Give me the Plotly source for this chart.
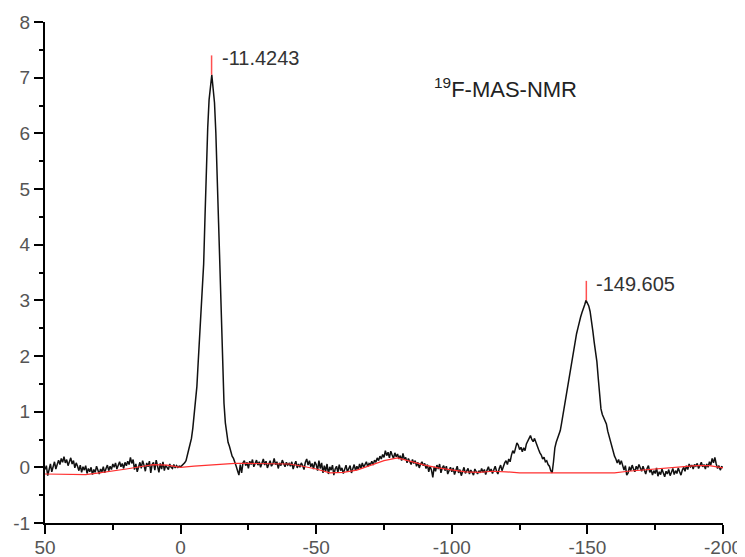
import plotly.graph_objects as go

# ---- data ----
# chemical shift grid: start and step (ppm)
shift_start = 50.0
shift_step = -0.5

# 19F MAS NMR spectrum intensity, 50 ppm -> -200 ppm every 0.5 ppm
intensity = [
    # 50.0 .. 40.5
    -0.04, 0.03, -0.15, -0.02, 0.06, -0.08, 0.04, 0.10, -0.03, 0.07, 0.13, 0.05, 0.16, 0.09, 0.19, 0.08, 0.14, 0.03, 0.11, 0.17,
    # 40.0 .. 30.5
    0.06, 0.12, -0.01, 0.08, 0.02, -0.06, 0.04, -0.09, 0.01, -0.05, 0.03, -0.11, -0.02, -0.08, 0.00, -0.13, -0.04, -0.09, 0.02, -0.07,
    # 30.0 .. 20.5
    -0.12, -0.03, -0.08, 0.01, -0.10, -0.02, 0.04, -0.06, 0.02, -0.04, 0.06, 0.00, 0.08, -0.03, 0.05, 0.10, 0.01, 0.07, -0.02, 0.09,
    # 20.0 .. 10.5
    0.03, 0.11, 0.05, 0.18, 0.07, 0.14, -0.04, 0.06, -0.08, 0.03, 0.09, -0.02, 0.12, 0.04, -0.07, 0.08, 0.01, 0.11, -0.10, 0.05,
    # 10.0 .. 0.5
    0.09, -0.05, 0.13, 0.02, -0.09, 0.07, -0.03, 0.10, -0.06, 0.04, 0.01, -0.04, 0.06, 0.00, -0.02, 0.05, -0.01, 0.03, 0.00, 0.02,
    # 0.0 .. -9.5
    0.01, 0.03, 0.05, 0.08, 0.12, 0.20, 0.32, 0.42, 0.52, 0.70, 0.92, 1.20, 1.45, 1.90, 2.40, 2.75, 3.20, 3.65, 4.50, 5.40,
    # -10.0 .. -19.5
    6.10, 6.60, 6.85, 7.05, 6.80, 6.55, 6.00, 5.35, 4.40, 3.60, 2.80, 1.90, 1.15, 0.80, 0.58, 0.45, 0.38, 0.28, 0.20, 0.16,
    # -20.0 .. -29.5
    0.10, 0.02, -0.06, -0.14, 0.05, -0.10, 0.08, 0.12, 0.03, 0.09, -0.02, 0.11, 0.05, 0.14, 0.01, 0.08, 0.13, 0.04, 0.10, 0.00,
    # -30.0 .. -39.5
    0.09, 0.15, 0.04, 0.11, -0.01, 0.07, 0.12, 0.02, 0.06, 0.16, 0.05, 0.10, -0.02, 0.08, 0.03, 0.13, 0.06, 0.01, 0.09, 0.04,
    # -40.0 .. -49.5
    0.07, 0.02, 0.10, -0.03, 0.05, 0.11, -0.01, 0.06, 0.00, 0.08, 0.03, -0.04, 0.09, 0.15, 0.04, 0.12, 0.01, 0.07, -0.03, 0.10,
    # -50.0 .. -59.5
    0.05, -0.06, 0.12, -0.02, 0.08, -0.10, 0.03, -0.07, 0.06, -0.12, 0.01, -0.05, 0.04, -0.14, -0.03, 0.02, -0.09, 0.05, -0.06, -0.01,
    # -60.0 .. -69.5
    -0.11, -0.02, 0.04, -0.08, -0.03, 0.03, -0.10, -0.01, 0.05, -0.06, 0.02, -0.04, 0.06, -0.02, 0.08, 0.00, 0.04, 0.10, 0.01, 0.07,
    # -70.0 .. -79.5
    0.05, 0.11, 0.04, 0.13, 0.09, 0.17, 0.12, 0.20, 0.15, 0.23, 0.18, 0.30, 0.21, 0.27, 0.17, 0.29, 0.22, 0.16, 0.26, 0.19,
    # -80.0 .. -89.5
    0.24, 0.15, 0.21, 0.12, 0.25, 0.14, 0.18, 0.08, 0.16, 0.11, 0.05, 0.14, 0.07, 0.12, 0.02, 0.09, -0.01, 0.06, 0.10, 0.03,
    # -90.0 .. -99.5
    0.07, -0.02, 0.05, -0.08, 0.02, -0.05, -0.18, 0.01, -0.07, 0.04, -0.03, 0.06, -0.10, -0.01, 0.03, -0.06, 0.02, -0.12, -0.04, 0.00,
    # -100.0 .. -109.5
    -0.08, -0.01, -0.13, -0.05, 0.02, -0.10, -0.04, -0.15, -0.06, 0.00, -0.11, -0.07, -0.02, -0.12, -0.05, -0.09, -0.14, -0.03, -0.08, -0.12,
    # -110.0 .. -119.5
    -0.06, -0.10, -0.02, -0.09, -0.04, -0.13, -0.05, 0.01, -0.08, -0.03, -0.11, -0.04, 0.02, -0.07, -0.12, -0.02, 0.04, -0.06, 0.03, 0.08,
    # -120.0 .. -129.5
    0.12, 0.05, 0.15, 0.10, 0.22, 0.30, 0.25, 0.38, 0.44, 0.40, 0.32, 0.36, 0.28, 0.35, 0.30, 0.42, 0.48, 0.52, 0.57, 0.50,
    # -130.0 .. -139.5
    0.46, 0.52, 0.44, 0.38, 0.32, 0.26, 0.22, 0.15, 0.18, 0.10, 0.12, 0.05, 0.02, -0.06, -0.10, 0.10, 0.35, 0.45, 0.52, 0.60,
    # -140.0 .. -149.5
    0.66, 0.80, 0.95, 1.10, 1.22, 1.40, 1.55, 1.70, 1.82, 1.95, 2.10, 2.25, 2.40, 2.50, 2.62, 2.70, 2.78, 2.84, 2.92, 3.00,
    # -150.0 .. -159.5
    2.96, 2.90, 2.80, 2.65, 2.45, 2.25, 2.10, 1.90, 1.60, 1.30, 1.05, 0.95, 0.90, 0.85, 0.78, 0.65, 0.55, 0.45, 0.38, 0.28,
    # -160.0 .. -169.5
    0.20, 0.15, 0.08, 0.14, 0.05, 0.12, 0.02, -0.05, 0.03, -0.14, -0.10, 0.01, -0.06, 0.04, -0.03, -0.08, 0.02, -0.04, 0.05, -0.02,
    # -170.0 .. -179.5
    -0.07, 0.02, -0.05, -0.12, -0.02, 0.03, -0.09, -0.04, -0.14, -0.06, -0.11, -0.01, -0.16, -0.08, -0.13, -0.03, -0.10, -0.17, -0.07, -0.12,
    # -180.0 .. -189.5
    -0.04, -0.15, -0.09, -0.02, -0.13, -0.06, -0.11, -0.01, -0.08, -0.14, -0.05, 0.00, -0.07, 0.03, -0.04, 0.06, 0.01, 0.04, -0.03, 0.05,
    # -190.0 .. -199.5
    0.02, 0.07, -0.02, 0.04, 0.09, 0.01, 0.05, -0.03, 0.06, 0.00, 0.10, 0.04, 0.16, 0.08, 0.18, 0.06, -0.02, 0.03, -0.05, 0.01,
    # -200.0
    0.00,
]

# fitted baseline (red), every 5 ppm from 50 to -200
baseline_shift = [50, 45, 40, 35, 30, 25, 20, 15, 10, 5, 0, -5, -10, -15, -20, -25, -30, -35, -40, -45,
                  -50, -55, -60, -65, -70, -75, -80, -85, -90, -95, -100, -105, -110, -115, -120, -125,
                  -130, -135, -140, -145, -150, -155, -160, -165, -170, -175, -180, -185, -190, -195, -200]
baseline_value = [-0.12, -0.12, -0.13, -0.13, -0.10, -0.07, -0.03, 0.01, 0.05, 0.04, 0.00, 0.02, 0.04, 0.06,
                  0.07, 0.07, 0.07, 0.06, 0.06, 0.02, -0.03, -0.10, -0.09, -0.05, 0.03, 0.12, 0.17, 0.10,
                  0.04, -0.01, -0.04, -0.08, -0.09, -0.07, -0.08, -0.10, -0.10, -0.10, -0.10, -0.10, -0.10,
                  -0.10, -0.10, -0.07, -0.05, -0.03, 0.00, 0.02, 0.03, 0.03, -0.01]

# labelled peaks
peak_shift = [-11.4243, -149.605]
peak_height = [7.05, 3.00]
peak_label = ["-11.4243", "-149.605"]
marker_len = 0.35

# axis ticks (hyphen minus as in the reference)
x_tick_vals = [50, 0, -50, -100, -150, -200]
x_tick_text = ["50", "0", "-50", "-100", "-150", "-200"]
y_tick_vals = [-1, 0, 1, 2, 3, 4, 5, 6, 7, 8]
y_tick_text = ["-1", "0", "1", "2", "3", "4", "5", "6", "7", "8"]

title_text = "<sup>19</sup>F-MAS-NMR"

shift = [shift_start + shift_step * i for i in range(len(intensity))]
assert len(intensity) == 501, len(intensity)

fig = go.Figure()
fig.add_trace(go.Scatter(x=shift, y=intensity, mode="lines",
                         line=dict(color="#111111", width=1.5), showlegend=False))
fig.add_trace(go.Scatter(x=baseline_shift, y=baseline_value, mode="lines",
                         line=dict(color="#ff3030", width=1.2), showlegend=False))
for px, ph in zip(peak_shift, peak_height):
    fig.add_trace(go.Scatter(x=[px, px], y=[ph, ph + marker_len], mode="lines",
                             line=dict(color="#ff5050", width=1.5), showlegend=False))

for px, ph, lab in zip(peak_shift, peak_height, peak_label):
    fig.add_annotation(x=px, y=ph + marker_len - 0.05, text=lab, showarrow=False,
                       xanchor="left", yanchor="middle", xshift=8,
                       font=dict(family="Liberation Sans, Arial", size=20, color="#333333"))

fig.add_annotation(x=-92.7, y=6.82, text=title_text, showarrow=False,
                   xanchor="left", yanchor="middle",
                   font=dict(family="Liberation Sans, Arial", size=22, color="#222222"))

axis_common = dict(showline=True, linecolor="black", linewidth=2, mirror=False,
                   showgrid=False, zeroline=False, ticks="outside", ticklen=9,
                   tickwidth=2, tickcolor="black", automargin=False,
                   tickfont=dict(family="Liberation Sans, Arial", size=19, color="#555555"))

fig.update_xaxes(range=[50, -200], tickmode="array", tickvals=x_tick_vals, ticktext=x_tick_text,
                 minor=dict(ticks="outside", ticklen=5, tickwidth=2, tickcolor="black", dtick=25, tick0=0),
                 ticklabelstandoff=-3, **axis_common)
fig.update_yaxes(range=[-1, 8], tickmode="array", tickvals=y_tick_vals, ticktext=y_tick_text,
                 minor=dict(ticks="outside", ticklen=4, tickwidth=2, tickcolor="black", dtick=0.5, tick0=0),
                 ticklabelstandoff=0, **axis_common)

# the page puts the figure 8 px from the window's top-left corner
fig.update_layout(width=737, height=549,
                  margin=dict(l=37, r=22, t=14, b=34),
                  paper_bgcolor="white", plot_bgcolor="white")

fig.write_html("out.html")
